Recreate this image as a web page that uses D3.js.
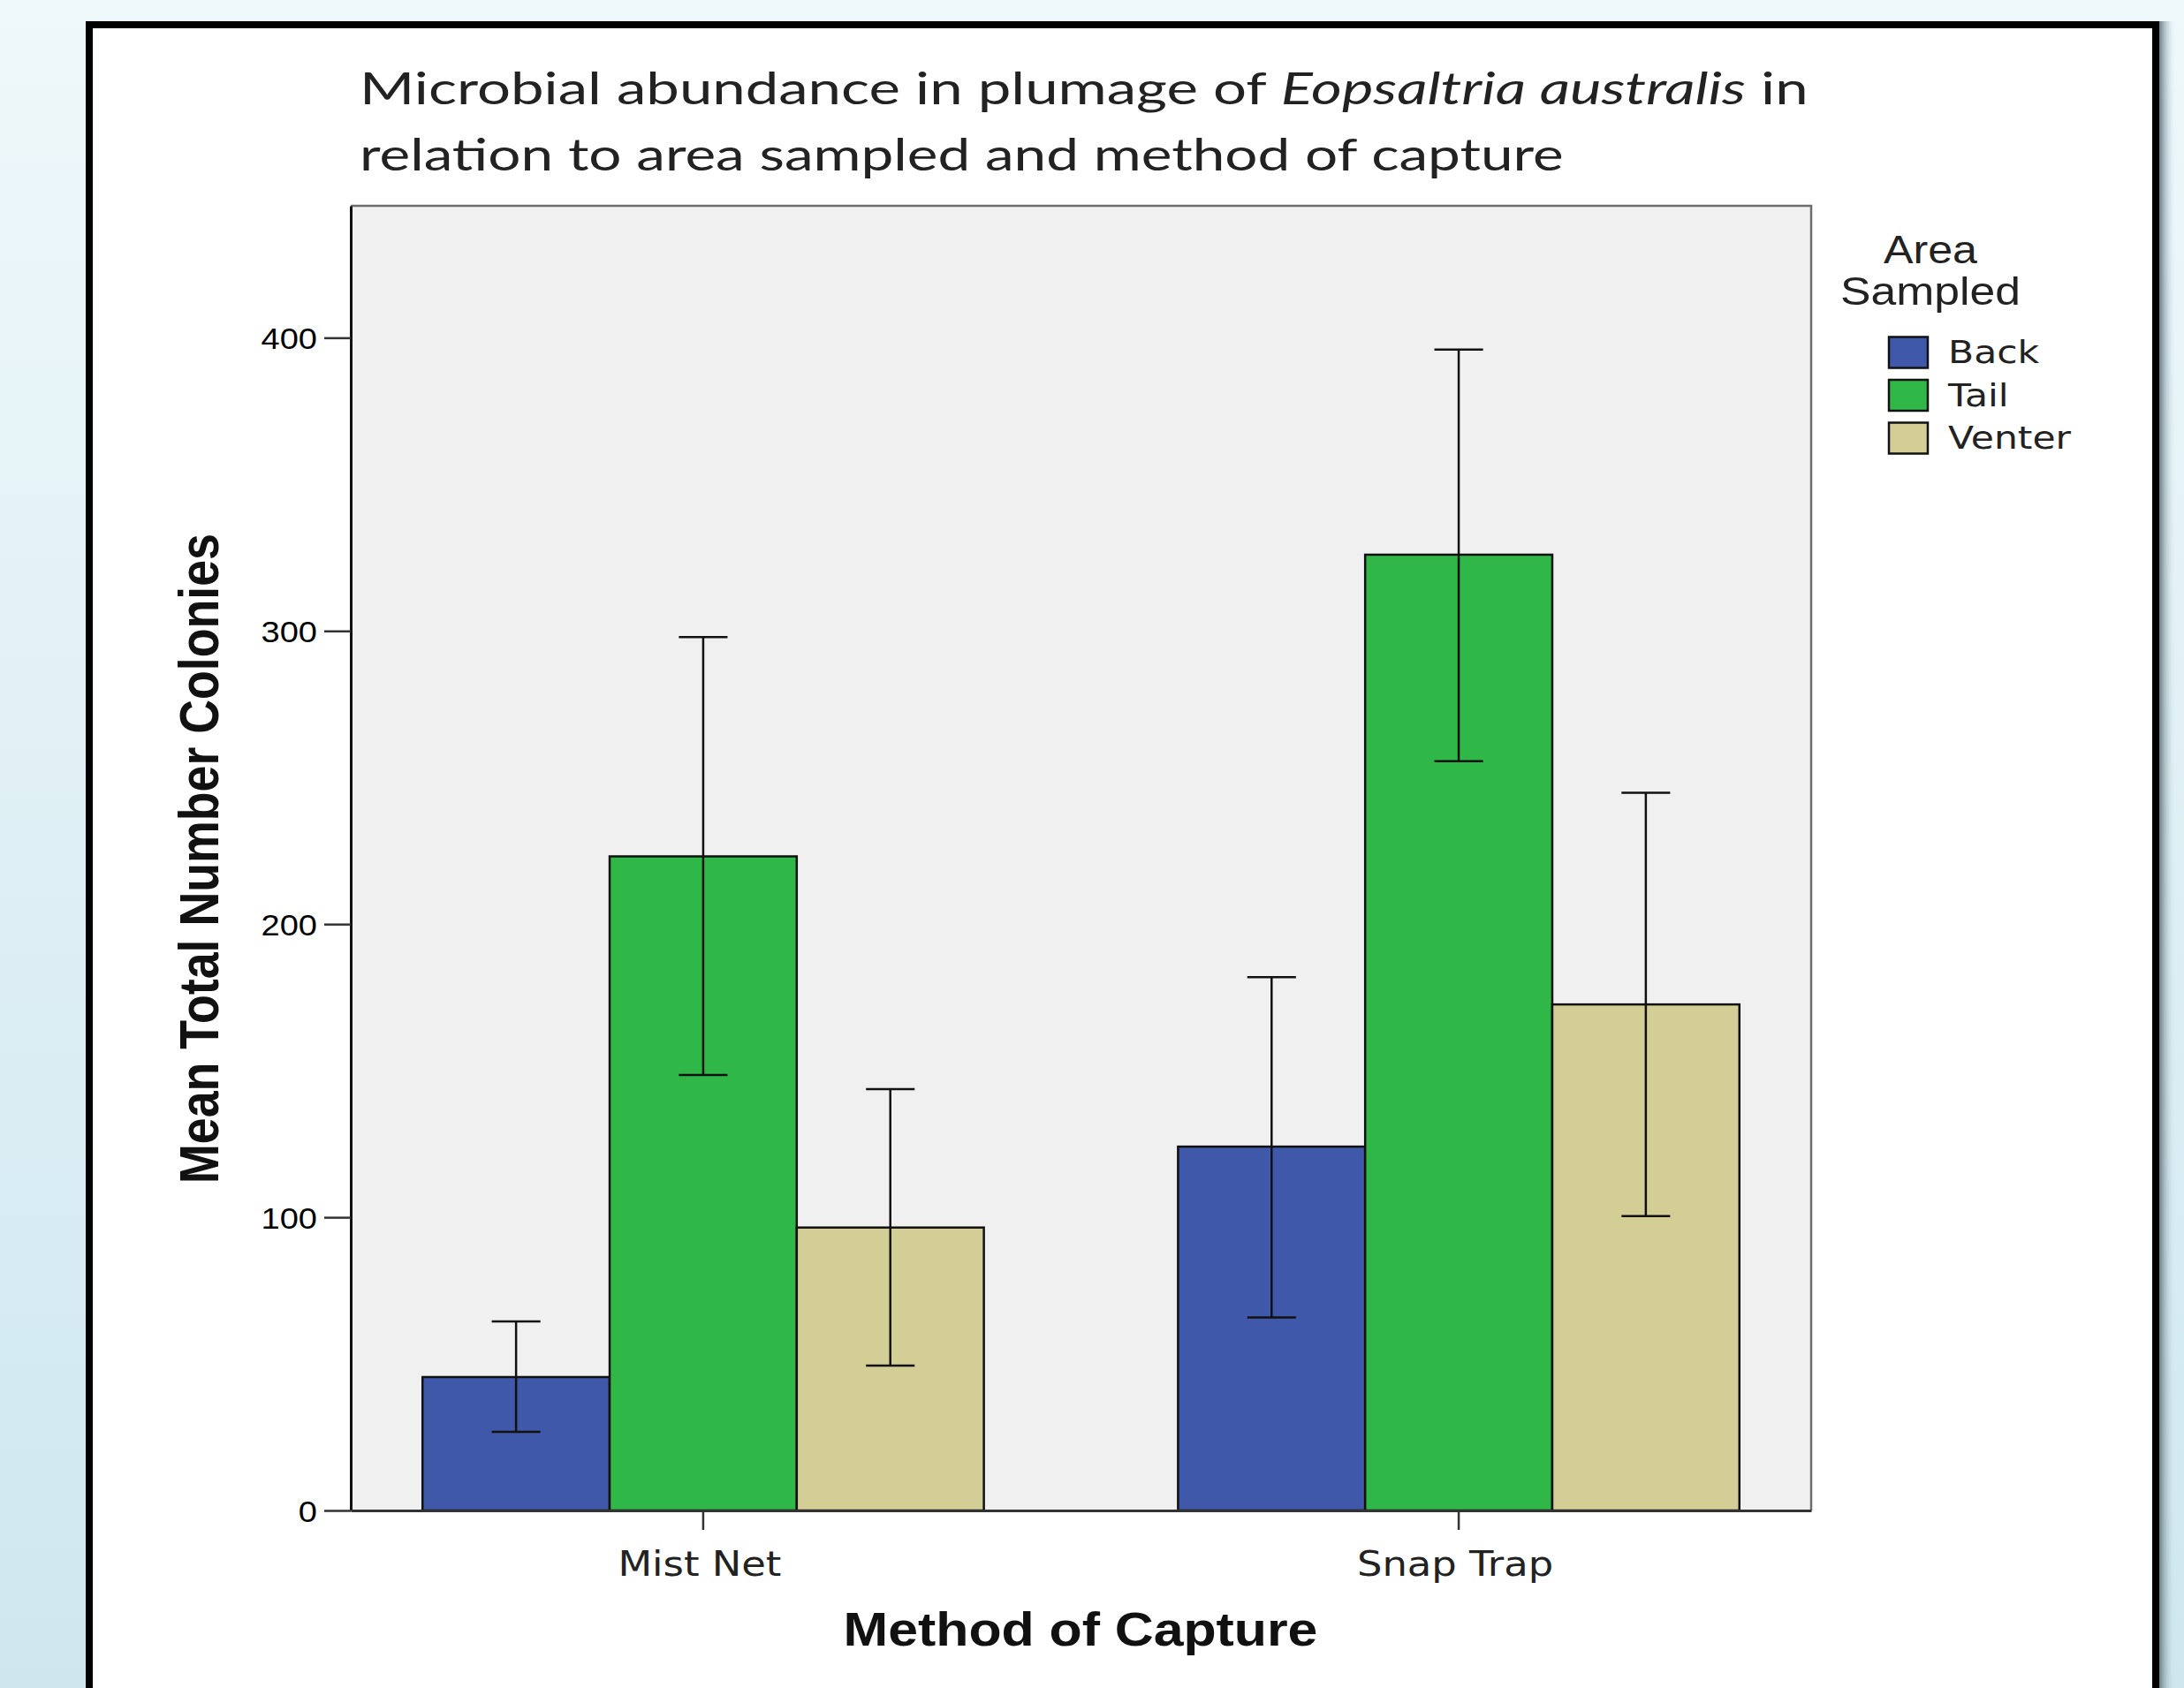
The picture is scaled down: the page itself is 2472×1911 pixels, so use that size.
<!DOCTYPE html>
<html>
<head>
<meta charset="utf-8">
<script src="https://cdn.jsdelivr.net/npm/d3@7"></script>
<style>
  html, body { margin: 0; padding: 0; overflow: hidden; }
  svg { display: block; }
</style>
</head>
<body>
<div id="chart"></div>
<script>
// data
const categories = ["Mist Net", "Snap Trap"];
const areas = ["Back", "Tail", "Venter"];
const backMean = [45.5, 124.1];
const backLow = [26.8, 65.8];
const backHigh = [64.5, 181.9];
const tailMean = [223.1, 326.0];
const tailLow = [148.5, 255.6];
const tailHigh = [297.9, 396.0];
const venterMean = [96.5, 172.6];
const venterLow = [49.4, 100.4];
const venterHigh = [143.7, 244.8];
const yTicks = [0, 100, 200, 300, 400];

const W = 2472, H = 1911;
const plot = { left: 397, right: 2050, top: 233, bottom: 1710 };
const SX = 1.15; // the screenshot is stretched sideways

const means = [backMean, tailMean, venterMean];
const lows = [backLow, tailLow, venterLow];
const highs = [backHigh, tailHigh, venterHigh];

const rows = [];
categories.forEach((c, i) => {
  areas.forEach((a, j) => {
    rows.push({ cat: c, area: a, mean: means[j][i], low: lows[j][i], high: highs[j][i] });
  });
});

function fitText(t, x, y, width) {
  const len = t.node().getComputedTextLength();
  t.attr("x", 0).attr("y", 0)
    .attr("transform", `translate(${x},${y}) scale(${width / len},1)`);
}

function draw() {
  const svg = d3.select("#chart").append("svg")
    .attr("width", W)
    .attr("height", H);

  const defs = svg.append("defs");
  const bg = defs.append("linearGradient").attr("id", "bg")
    .attr("x1", 0).attr("y1", 0).attr("x2", 0).attr("y2", 1);
  bg.append("stop").attr("offset", "0%").attr("stop-color", "#eff8fb");
  bg.append("stop").attr("offset", "100%").attr("stop-color", "#cee7ef");
  const sh = defs.append("linearGradient").attr("id", "shadow")
    .attr("x1", 0).attr("y1", 0).attr("x2", 1).attr("y2", 0);
  sh.append("stop").attr("offset", "0%").attr("stop-color", "#6c7f86");
  sh.append("stop").attr("offset", "100%").attr("stop-color", "#d2e9f0").attr("stop-opacity", 0);

  svg.append("rect").attr("width", W).attr("height", H).attr("fill", "url(#bg)");
  svg.append("rect").attr("x", 2444).attr("y", 24).attr("width", 18).attr("height", H)
    .attr("fill", "url(#shadow)");

  // white panel with black frame
  svg.append("rect")
    .attr("x", 101).attr("y", 28)
    .attr("width", 2339).attr("height", H + 40)
    .attr("fill", "#fff")
    .attr("stroke", "#000")
    .attr("stroke-width", 8);

  const x0 = d3.scaleBand()
    .domain(categories)
    .range([plot.left, plot.right])
    .paddingInner(0.257)
    .paddingOuter(0.095);
  const x1 = d3.scaleBand()
    .domain(areas)
    .range([0, x0.bandwidth()]);
  const y = d3.scaleLinear()
    .domain([0, 445])
    .range([plot.bottom, plot.top]);
  const color = d3.scaleOrdinal()
    .domain(areas)
    .range(["#3f58a9", "#2fb848", "#d3cd96"]);

  svg.append("rect")
    .attr("x", plot.left).attr("y", plot.top)
    .attr("width", plot.right - plot.left)
    .attr("height", plot.bottom - plot.top)
    .attr("fill", "#f0f0f0");

  // bars
  svg.append("g").selectAll("rect")
    .data(rows)
    .enter()
    .append("rect")
    .attr("x", d => x0(d.cat) + x1(d.area))
    .attr("y", d => y(d.mean))
    .attr("width", x1.bandwidth())
    .attr("height", d => y(0) - y(d.mean))
    .attr("fill", d => color(d.area))
    .attr("stroke", "#111")
    .attr("stroke-width", 2.5);

  // error bars
  const cap = x1.bandwidth() * 0.13;
  const err = svg.append("g")
    .attr("stroke", "#111")
    .attr("stroke-width", 2.5)
    .selectAll("g")
    .data(rows)
    .enter()
    .append("g")
    .attr("transform", d => `translate(${x0(d.cat) + x1(d.area) + x1.bandwidth() / 2},0)`);
  err.append("line").attr("y1", d => y(d.low)).attr("y2", d => y(d.high));
  err.append("line").attr("x1", -cap).attr("x2", cap).attr("y1", d => y(d.high)).attr("y2", d => y(d.high));
  err.append("line").attr("x1", -cap).attr("x2", cap).attr("y1", d => y(d.low)).attr("y2", d => y(d.low));

  // top and right border of the plot
  svg.append("path")
    .attr("d", `M${plot.left},${plot.top}H${plot.right}V${plot.bottom}`)
    .attr("fill", "none")
    .attr("stroke", "#6e6e6e")
    .attr("stroke-width", 2.5);

  // y axis
  const yAxis = svg.append("g")
    .attr("transform", `translate(${plot.left},0)`)
    .call(d3.axisLeft(y).tickValues(yTicks).tickSize(30).tickSizeOuter(0).tickPadding(8));
  yAxis.select(".domain").attr("stroke", "#111").attr("stroke-width", 3);
  yAxis.selectAll(".tick line").attr("stroke", "#333").attr("stroke-width", 2.5);
  yAxis.selectAll(".tick text")
    .attr("x", 0)
    .attr("dy", "0.36em")
    .attr("transform", "translate(-38,0) scale(1.12,1)")
    .attr("font-family", "'Liberation Sans', Arial, sans-serif")
    .attr("font-size", 34)
    .attr("fill", "#000");

  // x axis
  const xAxis = svg.append("g")
    .attr("transform", `translate(0,${plot.bottom})`)
    .call(d3.axisBottom(x0).tickSize(22).tickSizeOuter(0));
  xAxis.select(".domain").attr("stroke", "#333").attr("stroke-width", 3);
  xAxis.selectAll(".tick line").attr("stroke", "#333").attr("stroke-width", 2.5);
  xAxis.selectAll(".tick text")
    .attr("y", 0)
    .attr("dy", 0)
    .attr("transform", `translate(-4,74) scale(${SX},1)`)
    .attr("font-family", "'DejaVu Sans', Verdana, sans-serif")
    .attr("font-size", 39)
    .attr("fill", "#222");

  // title
  const t1 = svg.append("text")
    .attr("font-family", "Lato, 'Open Sans', sans-serif")
    .attr("font-size", 51)
    .attr("fill", "#222");
  t1.append("tspan").text("Microbial abundance in plumage of ");
  t1.append("tspan").attr("font-style", "italic").text("Eopsaltria australis");
  t1.append("tspan").text(" in");
  fitText(t1, 407, 118, 1640);
  const t2 = svg.append("text")
    .attr("font-family", "Lato, 'Open Sans', sans-serif")
    .attr("font-size", 51)
    .attr("fill", "#222")
    .text("relation to area sampled and method of capture");
  fitText(t2, 407, 193, 1363);

  // axis titles
  const yt = svg.append("text")
    .attr("text-anchor", "middle")
    .attr("font-family", "'Liberation Sans', Arial, sans-serif")
    .attr("font-weight", "bold")
    .attr("font-size", 53)
    .attr("fill", "#111")
    .text("Mean Total Number Colonies");
  const ylen = yt.node().getComputedTextLength();
  yt.attr("transform", `translate(247,972) scale(1.2,1) rotate(-90) scale(${736 / ylen},1)`);

  const xt = svg.append("text")
    .attr("text-anchor", "middle")
    .attr("font-family", "'Liberation Sans', Arial, sans-serif")
    .attr("font-weight", "bold")
    .attr("font-size", 53)
    .attr("fill", "#111")
    .text("Method of Capture");
  fitText(xt, 1223, 1863, 537);

  // legend
  const lt1 = svg.append("text")
    .attr("text-anchor", "middle")
    .attr("font-family", "'Liberation Sans', Arial, sans-serif")
    .attr("font-size", 45)
    .attr("fill", "#222")
    .text("Area");
  fitText(lt1, 2185, 298, 106);
  const lt2 = svg.append("text")
    .attr("text-anchor", "middle")
    .attr("font-family", "'Liberation Sans', Arial, sans-serif")
    .attr("font-size", 45)
    .attr("fill", "#222")
    .text("Sampled");
  fitText(lt2, 2185, 345, 204);

  const leg = svg.append("g").selectAll("g")
    .data(areas)
    .enter()
    .append("g")
    .attr("transform", (d, i) => `translate(2138,${399 + i * 48.5})`);
  leg.append("rect")
    .attr("x", 0).attr("y", -17.5)
    .attr("width", 44).attr("height", 35)
    .attr("fill", d => color(d))
    .attr("stroke", "#111")
    .attr("stroke-width", 2.5);
  leg.append("text")
    .attr("transform", "translate(67,12) scale(1.18,1)")
    .attr("font-family", "'DejaVu Sans', Verdana, sans-serif")
    .attr("font-size", 36)
    .attr("fill", "#222")
    .text(d => d);
}

document.fonts.ready.then(draw);
</script>
</body>
</html>
